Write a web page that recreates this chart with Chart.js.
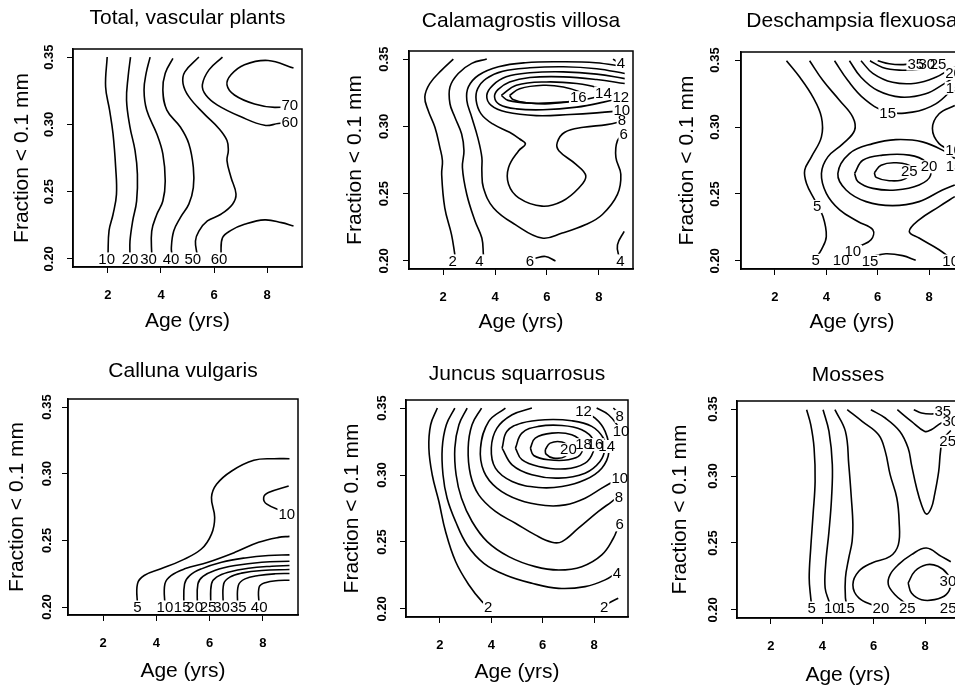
<!DOCTYPE html>
<html>
<head>
<meta charset="utf-8">
<script src="https://cdn.jsdelivr.net/npm/chart.js@4.4.1/dist/chart.umd.min.js"></script>
<style>
html, body { margin: 0; padding: 0; background: #fff; overflow: hidden; width: 955px; height: 688px; }
canvas { position: absolute; }
</style>
</head>
<body>
<script>
const xTicks = [2, 4, 6, 8];
const yTicks = [0.20, 0.25, 0.30, 0.35];
const xRange = [0.68, 9.32];
const yRange = [0.194, 0.356];

const titles = ['Total, vascular plants', 'Calamagrostis villosa', 'Deschampsia flexuosa',
                'Calluna vulgaris', 'Juncus squarrosus', 'Mosses'];
const xTitle = 'Age (yrs)';
const yTitle = 'Fraction < 0.1 mm';

// contour lines, [age, fraction] pairs
const totalLines = [
  [[1.97,0.35],[1.91,0.328],[2.06,0.3106],[2.19,0.293],[2.29,0.268],[2.32,0.248],[2.19,0.233],[2.04,0.221],[2.0,0.203]],
  [[2.85,0.35],[2.76,0.3355],[2.70,0.318],[2.83,0.298],[3.02,0.2806],[3.11,0.263],[3.08,0.243],[2.93,0.228],[2.83,0.2132],[2.83,0.2025]],
  [[3.59,0.35],[3.44,0.338],[3.36,0.3255],[3.46,0.3106],[3.84,0.293],[4.07,0.278],[4.16,0.258],[4.07,0.243],[3.84,0.233],[3.65,0.2207],[3.65,0.2025]],
  [[4.45,0.349],[4.16,0.338],[4.07,0.3255],[4.22,0.3106],[4.73,0.298],[5.05,0.2856],[5.22,0.268],[5.22,0.253],[5.05,0.2407],[4.73,0.2307],[4.48,0.2207],[4.39,0.2082],[4.42,0.2025]],
  [[5.43,0.35],[4.90,0.339],[4.83,0.3305],[5.05,0.3206],[5.62,0.308],[6.19,0.2968],[6.49,0.288],[6.54,0.2806],[6.49,0.2731],[6.64,0.2607],[6.83,0.2482],[6.70,0.2407],[6.26,0.2332],[5.75,0.2282],[5.43,0.2207],[5.30,0.2132],[5.37,0.2025]],
  [[6.26,0.2033],[6.32,0.2157],[6.64,0.2212],[7.15,0.2257],[7.91,0.229],[8.55,0.227],[9.0,0.2245]],
  [[6.32,0.35],[5.81,0.3405],[5.56,0.3293],[5.69,0.3218],[6.13,0.3143],[7.02,0.3056],[7.91,0.2993],[8.42,0.3006],[9.0,0.3018]],
  [[9.0,0.3418],[8.04,0.3475],[7.15,0.3443],[6.64,0.3368],[6.49,0.3293],[6.77,0.3218],[7.53,0.3151],[8.29,0.3126],[9.0,0.3143]]
];
const totalLabels = [['10',1.95,0.2],['20',2.83,0.2],['30',3.53,0.2],['40',4.38,0.2],['50',5.2,0.2],['60',6.19,0.2],['70',8.86,0.3143],['60',8.86,0.3013]];

const calamLines = [
  [[2.39,0.35],[1.94,0.3418],[1.48,0.3318],[1.29,0.3218],[1.42,0.3118],[1.68,0.2993],[1.87,0.2844],[1.97,0.2744],[1.94,0.2644],[2.06,0.2394],[2.32,0.2195],[2.45,0.2045]],
  [[3.68,0.35],[3.10,0.3468],[2.58,0.3393],[2.26,0.3293],[2.26,0.3168],[2.45,0.3068],[2.71,0.2943],[2.80,0.2819],[2.74,0.2694],[2.91,0.2494],[3.23,0.2295],[3.49,0.217],[3.55,0.2045]],
  [[8.55,0.35],[8.75,0.3475]],
  [[8.98,0.222],[8.72,0.212],[8.79,0.202]],
  [[8.98,0.3443],[7.88,0.3473],[6.46,0.348],[5.17,0.3473],[4.13,0.3443],[3.36,0.338],[2.97,0.3293],[2.91,0.3193],[3.10,0.3068],[3.33,0.2918],[3.49,0.2769],[3.49,0.2669],[3.55,0.2544],[3.94,0.2394],[4.78,0.227],[5.81,0.217],[6.59,0.2207],[7.50,0.227],[8.14,0.2345],[8.72,0.2494],[8.85,0.2644],[8.66,0.2769],[8.72,0.2894],[9.0,0.2943]],
  [[5.56,0.202],[5.94,0.2033],[6.33,0.2]],
  [[9.0,0.3393],[7.92,0.3428],[6.63,0.3443],[5.34,0.3435],[4.30,0.341],[3.66,0.3355],[3.33,0.328],[3.27,0.3193],[3.46,0.3093],[3.91,0.3018],[4.56,0.2956],[4.95,0.2906],[5.17,0.2869],[4.91,0.2819],[4.52,0.2694],[4.52,0.2569],[4.91,0.2469],[5.81,0.2407],[6.59,0.2444],[7.24,0.2544],[7.50,0.2632],[7.11,0.2719],[6.46,0.2819],[6.40,0.2881],[6.69,0.2956],[7.41,0.2993],[8.31,0.3013],[9.0,0.3043]],
  [[9.0,0.3355],[7.92,0.3388],[6.63,0.3405],[5.34,0.3398],[4.43,0.3368],[3.91,0.3305],[3.68,0.323],[3.85,0.3156],[4.43,0.3106],[5.59,0.308],[6.89,0.3088],[7.92,0.31],[9.0,0.3118]],
  [[9.0,0.3318],[7.92,0.3348],[6.63,0.3368],[5.34,0.3363],[4.56,0.333],[4.11,0.3273],[3.98,0.3218],[4.17,0.3163],[4.82,0.313],[5.85,0.3123],[7.15,0.3143],[8.18,0.318],[9.0,0.3218]],
  [[4.24,0.323],[4.82,0.3305],[5.98,0.333],[7.15,0.3318],[7.92,0.3288],[8.12,0.3255],[7.79,0.3213],[6.63,0.318],[5.34,0.3173],[4.50,0.3193],[4.24,0.323]],
  [[4.56,0.323],[4.95,0.328],[5.85,0.3305],[6.63,0.3293],[7.28,0.3255],[7.47,0.3223],[7.15,0.3193],[6.11,0.3168],[5.21,0.3176],[4.69,0.32],[4.56,0.323]]
];
const calamLabels = [['2',2.36,0.2],['4',3.4,0.2],['6',5.34,0.2],['4',8.83,0.2],['16',7.21,0.3213],['14',8.18,0.3248],['12',8.85,0.3218],['10',8.89,0.3118],['8',8.89,0.3043],['6',8.96,0.2943],['4',8.85,0.3468]];

const deschLines = [
  [[2.45,0.3495],[2.97,0.3371],[3.48,0.3223],[3.81,0.3074],[3.81,0.2926],[3.42,0.2777],[3.16,0.2678],[3.23,0.2579],[3.55,0.2455],[3.87,0.2332],[4.0,0.2183],[3.81,0.2084],[3.59,0.2022]],
  [[3.35,0.3495],[3.87,0.3347],[4.52,0.3198],[5.03,0.3074],[5.10,0.2975],[4.65,0.2876],[4.06,0.2777],[3.81,0.2653],[4.0,0.2505],[4.52,0.2381],[5.23,0.2295],[5.81,0.2233],[5.74,0.2158],[5.29,0.2109],[4.90,0.2059]],
  [[4.32,0.3495],[4.84,0.3347],[5.48,0.321],[6.32,0.3116],[7.35,0.3111],[8.26,0.3173],[9.0,0.33]],
  [[4.90,0.3495],[5.35,0.3371],[6.0,0.3272],[6.90,0.3223],[7.87,0.3248],[8.58,0.3322],[9.0,0.3375]],
  [[5.35,0.3495],[5.81,0.3401],[6.58,0.3334],[7.48,0.3327],[8.26,0.3371],[8.77,0.3426],[9.0,0.3446]],
  [[5.70,0.3495],[6.19,0.3445],[6.84,0.3425],[7.61,0.343],[8.13,0.3455],[8.30,0.3475]],
  [[6.0,0.3495],[6.45,0.3472],[7.0,0.3466],[7.35,0.3478]],
  [[5.87,0.2658],[6.13,0.2715],[6.71,0.2733],[7.29,0.2703],[7.10,0.2616],[6.45,0.2599],[5.94,0.2624],[5.87,0.2658]],
  [[5.10,0.2653],[5.42,0.2752],[6.19,0.279],[7.23,0.279],[7.87,0.274],[8.06,0.2641],[7.61,0.2567],[6.71,0.253],[5.81,0.2542],[5.23,0.2592],[5.10,0.2653]],
  [[9.0,0.2765],[8.65,0.2814],[7.74,0.2889],[6.71,0.2906],[5.81,0.2876],[4.90,0.2802],[4.45,0.2653],[4.77,0.253],[5.55,0.2443],[6.58,0.2413],[7.61,0.2443],[8.52,0.253],[9.0,0.2567]],
  [[9.0,0.3161],[8.39,0.3099],[8.13,0.2988],[8.39,0.2876],[9.0,0.2814]],
  [[9.0,0.248],[8.39,0.2406],[7.61,0.2307],[7.23,0.222],[7.61,0.2171],[8.39,0.2084],[8.90,0.201]],
  [[5.81,0.2035],[6.32,0.2054],[6.97,0.204],[7.48,0.2005]]
];
const deschLabels = [['5',3.64,0.2406],['5',3.59,0.2005],['10',5.03,0.2072],['10',4.58,0.2005],['15',5.70,0.2],['10',8.84,0.2],['15',6.39,0.3099],['25',7.23,0.2666],['20',8.0,0.2703],['15',8.97,0.2703],['10',8.95,0.2827],['35',7.48,0.347],['30',7.91,0.347],['25',8.35,0.347],['20',8.95,0.340],['15',8.97,0.329]];

const callunaLines = [
  [[3.29,0.201],[3.29,0.2174],[3.54,0.2236],[4.17,0.2286],[4.93,0.2348],[5.69,0.2435],[6.07,0.2547],[6.19,0.2672],[6.07,0.2821],[6.26,0.292],[6.83,0.302],[7.66,0.31],[8.42,0.3112],[9.0,0.3112]],
  [[8.97,0.2908],[8.21,0.2858],[8.03,0.2821],[8.15,0.2771],[8.72,0.2721]],
  [[4.32,0.201],[4.32,0.2174],[4.55,0.2236],[5.06,0.2286],[5.94,0.2336],[6.95,0.241],[7.84,0.2485],[8.59,0.2522],[9.0,0.253]],
  [[5.03,0.201],[5.06,0.2174],[5.25,0.2236],[5.69,0.2286],[6.45,0.2336],[7.33,0.2368],[8.21,0.2386],[9.0,0.2391]],
  [[5.54,0.201],[5.56,0.2174],[5.75,0.2229],[6.19,0.2274],[6.95,0.2311],[7.96,0.2336],[9.0,0.2343]],
  [[6.04,0.201],[6.07,0.2174],[6.26,0.2224],[6.70,0.2261],[7.46,0.2291],[8.34,0.2306],[9.0,0.2311]],
  [[6.51,0.201],[6.53,0.2174],[6.76,0.2224],[7.20,0.2254],[7.96,0.2274],[9.0,0.2281]],
  [[7.05,0.201],[7.08,0.2162],[7.33,0.2211],[7.84,0.2236],[8.47,0.2249],[9.0,0.2251]],
  [[7.86,0.201],[7.86,0.2149],[8.09,0.2182],[8.59,0.2199],[9.0,0.2201]]
];
const callunaLabels = [['5',3.29,0.2],['10',4.32,0.2],['15',4.97,0.2],['20',5.44,0.2],['25',5.94,0.2],['30',6.45,0.2],['35',7.08,0.2],['40',7.86,0.2],['10',8.9,0.2697]];

const juncusLines = [
  [[1.90,0.35],[1.64,0.3375],[1.57,0.3201],[1.70,0.3002],[1.96,0.2802],[2.22,0.2578],[2.61,0.2354],[3.13,0.2179],[3.64,0.2055],[3.97,0.2005]],
  [[8.94,0.208],[8.56,0.2042],[8.36,0.201]],
  [[2.58,0.35],[2.25,0.3375],[2.09,0.3201],[2.12,0.3002],[2.28,0.2827],[2.61,0.2653],[3.06,0.2478],[3.71,0.2341],[4.55,0.2254],[5.58,0.2192],[6.62,0.2154],[7.65,0.2167],[8.43,0.2217],[8.94,0.2279]],
  [[3.06,0.35],[2.74,0.3375],[2.58,0.3201],[2.63,0.3002],[2.84,0.2827],[3.25,0.2653],[3.84,0.2503],[4.68,0.2391],[5.71,0.2316],[6.62,0.2291],[7.52,0.2316],[8.30,0.2404],[8.75,0.2528],[8.94,0.2615]],
  [[3.62,0.35],[3.25,0.3375],[3.10,0.3201],[3.19,0.3002],[3.51,0.2852],[4.16,0.2728],[4.94,0.264],[5.71,0.2553],[6.36,0.2498],[6.75,0.2503],[7.39,0.2603],[8.17,0.2728],[8.69,0.2802],[8.94,0.284]],
  [[4.55,0.35],[3.90,0.34],[3.58,0.3201],[3.71,0.3027],[4.22,0.2902],[5.06,0.2815],[6.10,0.2772],[6.88,0.2777],[7.65,0.2827],[8.30,0.2902],[8.75,0.2952],[9.0,0.2977]],
  [[8.10,0.35],[8.56,0.345],[8.94,0.3363],[9.0,0.3338]],
  [[8.75,0.35],[9.0,0.3455]],
  [[5.58,0.35],[4.81,0.345],[4.22,0.335],[4.0,0.3201],[4.16,0.3051],[4.81,0.2952],[5.84,0.2907],[6.75,0.2914],[7.65,0.2964],[8.30,0.3051],[8.58,0.3176],[8.43,0.3326],[8.04,0.3425],[7.52,0.3475]],
  [[4.42,0.3201],[4.61,0.3326],[5.19,0.3388],[6.10,0.3413],[7.13,0.3405],[7.91,0.3363],[8.36,0.3276],[8.43,0.3201],[8.23,0.3101],[7.65,0.3014],[6.62,0.2977],[5.58,0.3002],[4.81,0.3076],[4.42,0.3201]],
  [[4.94,0.3201],[5.19,0.3313],[5.84,0.3363],[6.75,0.337],[7.52,0.3338],[7.97,0.3263],[7.97,0.3176],[7.65,0.3089],[6.88,0.3046],[5.84,0.3064],[5.19,0.3114],[4.94,0.3201]],
  [[5.52,0.3201],[5.71,0.3276],[6.36,0.3313],[7.13,0.3301],[7.52,0.3238],[7.46,0.3151],[7.0,0.3114],[6.23,0.3114],[5.65,0.3146],[5.52,0.3201]],
  [[6.10,0.3189],[6.29,0.3238],[6.75,0.3246],[7.0,0.3201],[6.88,0.3139],[6.42,0.3126],[6.13,0.3156],[6.10,0.3189]]
];
const juncusLabels = [['2',3.88,0.201],['2',8.39,0.201],['4',8.89,0.2264],['6',9.0,0.2628],['8',8.97,0.2832],['10',9.0,0.2977],['10',9.05,0.3326],['8',9.0,0.3438],['12',7.59,0.3475],['20',7.0,0.3189],['18',7.59,0.3226],['16',8.04,0.3226],['14',8.49,0.3213]];

const mossLines = [
  [[3.39,0.3495],[3.55,0.3383],[3.68,0.3209],[3.72,0.296],[3.64,0.2711],[3.55,0.2463],[3.49,0.2239],[3.55,0.209],[3.59,0.2027]],
  [[4.03,0.3495],[4.26,0.3333],[4.39,0.3085],[4.36,0.2836],[4.26,0.2587],[4.13,0.2338],[4.11,0.2164],[4.26,0.2065],[4.33,0.2027]],
  [[4.49,0.3495],[4.90,0.3333],[5.03,0.3085],[5.13,0.2836],[5.19,0.2637],[5.16,0.2512],[5.03,0.2388],[4.90,0.2239],[4.90,0.209],[4.97,0.2027]],
  [[4.97,0.3495],[5.55,0.3408],[6.19,0.3308],[6.45,0.3184],[6.64,0.301],[6.90,0.2836],[6.99,0.2662],[6.96,0.2488],[6.64,0.24],[5.93,0.2351],[5.42,0.2289],[5.19,0.2189],[5.42,0.209],[6.06,0.2027]],
  [[5.89,0.3495],[6.45,0.3433],[7.02,0.3333],[7.34,0.3209],[7.47,0.3085],[7.67,0.291],[7.86,0.2786],[8.05,0.2716],[8.24,0.2761],[8.37,0.2861],[8.53,0.3035],[8.60,0.3184],[8.69,0.3271],[9.0,0.334]],
  [[6.92,0.3495],[7.47,0.3408],[7.99,0.3333],[8.24,0.3346],[8.63,0.3396],[9.0,0.342]],
  [[7.56,0.3495],[7.86,0.347],[8.24,0.3463],[8.50,0.347]],
  [[9.0,0.236],[8.63,0.24],[8.05,0.2463],[7.47,0.2413],[6.96,0.2338],[6.64,0.2264],[6.57,0.2189],[6.83,0.2114],[7.22,0.2052]],
  [[7.34,0.2201],[7.60,0.2289],[8.05,0.2338],[8.50,0.2326],[8.89,0.2264],[9.0,0.219],[8.82,0.2114],[8.37,0.2077],[7.86,0.2077],[7.47,0.2127],[7.34,0.2201]]
];
const mossLabels = [['5',3.59,0.2015],['10',4.39,0.2015],['15',4.94,0.2015],['20',6.28,0.2015],['25',7.31,0.2015],['25',8.9,0.2015],['30',8.89,0.2214],['25',8.88,0.326],['30',9.0,0.341],['35',8.69,0.348]];

const allLines = [totalLines, calamLines, deschLines, callunaLines, juncusLines, mossLines];
const allLabels = [totalLabels, calamLabels, deschLabels, callunaLabels, juncusLabels, mossLabels];

// plot boxes on the page (left, top, right, bottom) and text offsets from the box
const boxes = [[73,49,302,267],[409,51,633,269],[741,52,963,269],[68,399,298,615],[406,400,628,617],[737,401,959,618]];
const titleGap = [31,30,31,28,26,26];
const xTitleGap = [54,53,53,56,55,57];
const yTitleGap = [51,54,54,51,54,57];
const yTickGap = [24,25,26,21,24,24];

const FONT = '"Liberation Sans", Arial, Helvetica, sans-serif';
const PAD_L = 70, PAD_T = 50, PAD_R = 15, PAD_B = 95;
const TXT = 21, HALF = TXT * 1.2 / 2;

function makePanel(i) {
  const b = boxes[i];
  const w = b[2] - b[0], h = b[3] - b[1];
  const canvas = document.createElement('canvas');
  canvas.width = w + PAD_L + PAD_R;
  canvas.height = h + PAD_T + PAD_B;
  canvas.style.left = (b[0] - PAD_L) + 'px';
  canvas.style.top = (b[1] - PAD_T) + 'px';
  document.body.appendChild(canvas);

  const extras = {
    id: 'extras' + i,
    afterDatasetsDraw(chart) {
      const ctx = chart.ctx;
      const xs = chart.scales.x, ys = chart.scales.y;
      ctx.save();
      ctx.font = '15px ' + FONT;
      ctx.textAlign = 'center';
      ctx.textBaseline = 'middle';
      const pos = allLabels[i].map(l => [l[0], xs.getPixelForValue(l[1]), ys.getPixelForValue(l[2])]);
      ctx.fillStyle = '#fff';
      pos.forEach(p => {
        const tw = ctx.measureText(p[0]).width;
        ctx.fillRect(p[1] - tw / 2 - 1, p[2] - 6.5, tw + 2, 13);
      });
      ctx.fillStyle = '#000';
      pos.forEach(p => ctx.fillText(p[0], p[1], p[2] + 0.5));
      ctx.restore();
    },
    afterDraw(chart) {
      const ctx = chart.ctx;
      const a = chart.chartArea;
      ctx.save();
      ctx.strokeStyle = '#000';
      ctx.lineWidth = 1.5;
      ctx.strokeRect(a.left, a.top, a.right - a.left, a.bottom - a.top);
      // rotated y tick labels
      const ys = chart.scales.y;
      ctx.fillStyle = '#000';
      ctx.font = 'bold 13px ' + FONT;
      ctx.textAlign = 'center';
      ctx.textBaseline = 'middle';
      ys.ticks.forEach(t => {
        ctx.save();
        ctx.translate(a.left - yTickGap[i], ys.getPixelForValue(t.value));
        ctx.rotate(-Math.PI / 2);
        ctx.fillText(t.value.toFixed(2), 0, 0);
        ctx.restore();
      });
      ctx.restore();
    }
  };

  new Chart(canvas, {
    type: 'scatter',
    data: {
      datasets: allLines[i].map(line => ({
        data: line.map(p => ({ x: p[0], y: p[1] })),
        showLine: true,
        borderColor: '#000',
        borderWidth: 1.6,
        pointRadius: 0,
        tension: 0.4,
        fill: false
      }))
    },
    options: {
      responsive: false,
      animation: false,
      events: [],
      layout: { padding: { left: 0, top: 0, right: PAD_R, bottom: 0 } },
      plugins: {
        legend: { display: false },
        tooltip: { enabled: false },
        title: {
          display: true,
          text: titles[i],
          color: '#000',
          fullSize: false,
          font: { family: FONT, size: TXT, weight: 'normal', lineHeight: 1.2 },
          padding: { top: PAD_T - titleGap[i] - HALF, bottom: titleGap[i] - HALF }
        }
      },
      scales: {
        x: {
          type: 'linear',
          min: xRange[0], max: xRange[1],
          afterBuildTicks: s => { s.ticks = xTicks.map(v => ({ value: v })); },
          afterFit: s => { s.height = PAD_B; },
          grid: { drawOnChartArea: false, drawTicks: true, tickLength: 6, color: '#000', lineWidth: 1 },
          border: { display: true, color: '#000', width: 1.5 },
          ticks: {
            color: '#000', padding: 15, maxRotation: 0, autoSkip: false,
            font: { family: FONT, size: 13, weight: 'bold' },
            callback: v => String(v)
          },
          title: {
            display: true, text: xTitle, color: '#000',
            font: { family: FONT, size: TXT, lineHeight: 1.2 },
            padding: { top: 0, bottom: PAD_B - xTitleGap[i] - HALF }
          }
        },
        y: {
          type: 'linear',
          min: yRange[0], max: yRange[1],
          afterBuildTicks: s => { s.ticks = yTicks.map(v => ({ value: v })); },
          afterFit: s => { s.width = PAD_L; },
          grid: { drawOnChartArea: false, drawTicks: true, tickLength: 6, color: '#000', lineWidth: 1 },
          border: { display: true, color: '#000', width: 1.5 },
          ticks: {
            color: 'rgba(0,0,0,0)', padding: 4, autoSkip: false,
            font: { family: FONT, size: 13, weight: 'bold' },
            callback: v => v.toFixed(2)
          },
          title: {
            display: true, text: yTitle, color: '#000',
            font: { family: FONT, size: TXT, lineHeight: 1.2 },
            padding: { top: PAD_L - yTitleGap[i] - HALF, bottom: 0 }
          }
        }
      }
    },
    plugins: [extras]
  });
}

for (let i = 0; i < 6; i++) makePanel(i);
</script>
</body>
</html>
